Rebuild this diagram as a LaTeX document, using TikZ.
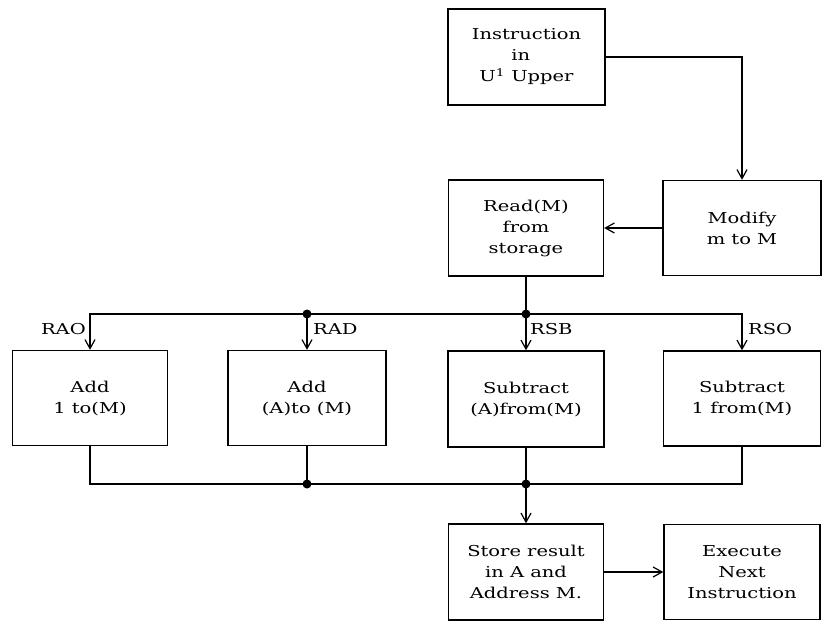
\documentclass[tikz,border=0pt]{standalone}
\usepackage{fontspec}
\setmainfont{DejaVu Serif}[FakeStretch=1.3]
\usepackage{tikz}
\usetikzlibrary{positioning}
\usetikzlibrary{arrows.meta}
\begin{document}
\begin{tikzpicture}[x=1pt,y=1pt,
		box/.style = {draw, rectangle, line width=1.4pt, align=center, font=\fontsize{15}{21}\selectfont},
		lbl/.style = {font=\fontsize{15}{18}\selectfont, inner sep=1pt},
		arr/.style = {line width=1.2pt, -{Straight Barb[length=9pt,width=10pt,line width=1.2pt]}},
		wire/.style = {line width=1.2pt}]
		\useasboundingbox (0,0) rectangle (825,-627);
		% top row
		\node[box, minimum width=157pt, minimum height=96pt] at (526.5,-57) (instr) {Instruction\\ \phantom{U\textsuperscript{1} }\rlap{in}\phantom{Upper}\\ U\textsuperscript{1} Upper};
		\node[box, minimum width=155pt, minimum height=96pt] at (526,-228) (read) {Read(M)\\ from\\ storage};
		\node[box, minimum width=158pt, minimum height=95pt] at (742,-228) (modify) {Modify\\ m to M};
		% operations
		\node[box, minimum width=155pt, minimum height=95pt] at (90,-398) (add1) {Add\\ 1 to(M)};
		\node[box, minimum width=158pt, minimum height=95pt] at (307,-398) (addA) {Add\\ (A)to (M)};
		\node[box, minimum width=156pt, minimum height=96pt] at (526,-399) (subA) {Subtract\\ (A)from(M)};
		\node[box, minimum width=157pt, minimum height=95pt] at (742,-398.5) (sub1) {Subtract\\ 1 from(M)};
		% bottom row
		\node[box, minimum width=155pt, minimum height=96pt] at (526,-572) (store) {Store result\\ in A and\\ Address M.};
		\node[box, minimum width=156pt, minimum height=95pt] at (742,-572) (exec) {Execute\\ Next\\ Instruction};
		% labels
		\node[lbl, anchor=east] at (87,-329) (rao) {RAO};
		\node[lbl, anchor=west] at (312,-329) (rad) {RAD};
		\node[lbl, anchor=west] at (529,-329) (rsb) {RSB};
		\node[lbl, anchor=west] at (747,-329) (rso) {RSO};
		% connectors
		\draw[arr] (instr.east) -| (modify.north);
		\draw[arr] (modify.west) -- (read.east);
		\draw[wire] (read.south) -- (read.south |- 0,-314) coordinate (jr);
		\draw[arr] (jr) -| (add1.north);
		\draw[arr] (jr) -| (sub1.north);
		\draw[arr] (jr) -- (subA.north);
		\draw[arr] (addA.north |- jr) coordinate (ja) -- (addA.north);
		\draw[wire] (subA.south) -- (subA.south |- 0,-484) coordinate (jb);
		\draw[wire] (add1.south) |- (jb);
		\draw[wire] (sub1.south) |- (jb);
		\draw[wire] (addA.south) -- (addA.south |- jb) coordinate (jc);
		\draw[arr] (jb) -- (store.north);
		\draw[arr] (store.east) -- (exec.west);
		\fill (jr) circle (4.5pt);
		\fill (ja) circle (4.5pt);
		\fill (jb) circle (4.5pt);
		\fill (jc) circle (4.5pt);
	\end{tikzpicture}
\end{document}
